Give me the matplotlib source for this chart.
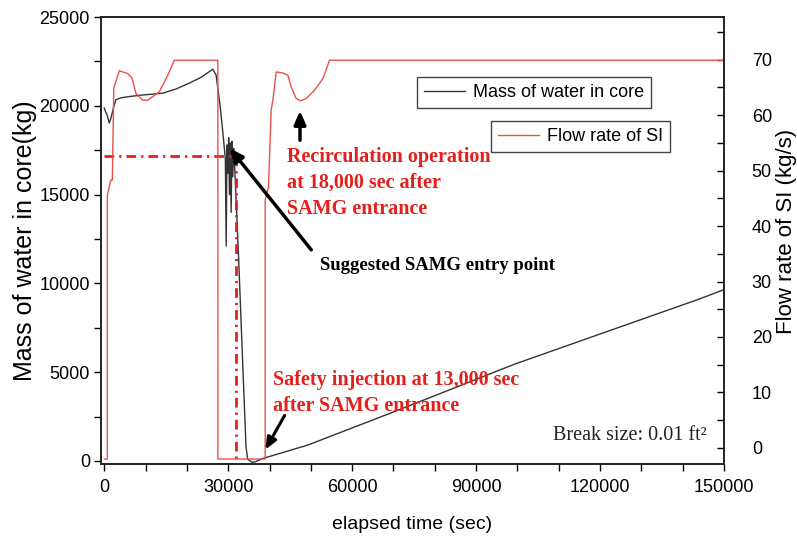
import matplotlib
matplotlib.use("Agg")
import matplotlib.pyplot as plt
from matplotlib.ticker import MultipleLocator

# massa de agua no nucleo (kg)
mass_time = [0, 170, 650, 1200, 1600, 2350, 2800, 4050, 6050, 8900, 14150, 17400,
             20600, 23400, 26250, 27050, 28050, 28700, 29300, 29500, 29700, 29900,
             30100, 30300, 30500, 30700, 30900, 31100, 31300, 31450, 32500, 33500,
             34300, 34700, 35800, 36500, 38500, 49300, 70000, 99300, 120000, 143800,
             150000]
mass = [19870, 19750, 19500, 19030, 19300, 20000, 20340, 20450, 20520, 20600, 20710,
        20950, 21280, 21600, 22060, 21740, 19960, 18480, 17000, 12100, 17800, 16200,
        18200, 15000, 17900, 14000, 18000, 16000, 17600, 17100, 11500, 5500, 800, 100,
        -80, -50, 150, 900, 2760, 5450, 7150, 9100, 9650]

# vazao de injecao de seguranca (kg/s)
flow_time = [0, 730, 740, 1550, 1940, 2300, 3630, 5670, 6700, 7680, 9300, 10500,
             13300, 15360, 16960, 27480, 27500, 38940, 38950, 39740, 40390, 40800,
             41610, 43230, 44440, 45240, 46450, 47490, 48870, 50880, 52920, 54520,
             150000]
flow = [-2.0, -2.0, 45.6, 48.3, 48.3, 64.9, 68.0, 67.5, 66.7, 63.9, 62.7, 62.7, 64.2,
        67.2, 69.9, 69.9, -2.0, -2.0, 44.7, 47.1, 60.9, 62.7, 67.8, 67.6, 67.2, 65.1,
        63.0, 62.6, 63.0, 64.5, 66.6, 69.9, 69.9]

# ponto de entrada no SAMG (linhas traco-ponto)
samg_time = 31900
samg_mass = 17200

W, H = 797, 539


def fx(px):
    return px / W


def fy(py):
    return 1 - py / H


sans = "Liberation Sans"
serif = "Liberation Serif"

fig = plt.figure(figsize=(W / 100, H / 100), dpi=100)
ax = fig.add_axes([fx(101), fy(464), fx(724) - fx(101), fy(17) - fy(464)])
ax2 = ax.twinx()

l1, = ax.plot(mass_time, mass, color="#333333", lw=1.0, label="Mass of water in core")
l2, = ax2.plot(flow_time, flow, color="#e8504a", lw=1.0, label="Flow rate of SI")

# linhas traco-ponto vermelhas
ax.plot([0, samg_time], [samg_mass, samg_mass], color="#e3201c", lw=2,
        dashes=(3.5, 1.8, 0.8, 1.8))
ax.plot([samg_time, samg_time], [samg_mass, -170], color="#e3201c", lw=2,
        dashes=(3.5, 1.8, 0.8, 1.8))

ax.set_xlim(-800, 150000)
ax.set_ylim(-170, 25000)
ax2.set_ylim(-2.9, 77.7)

ax.xaxis.set_major_locator(MultipleLocator(30000))
ax.xaxis.set_minor_locator(MultipleLocator(10000))
ax.yaxis.set_major_locator(MultipleLocator(5000))
ax.yaxis.set_minor_locator(MultipleLocator(2500))
ax2.yaxis.set_major_locator(MultipleLocator(10))
ax2.yaxis.set_minor_locator(MultipleLocator(5))

ax.tick_params(axis="x", which="both", direction="out", length=5, width=1, pad=6,
               labelsize=13)
ax.tick_params(axis="y", which="both", direction="out", length=5, width=1, pad=3,
               labelsize=13)
ax2.tick_params(axis="y", which="both", direction="in", length=5, width=1, pad=20,
                labelsize=13)
for lab in ax.get_xticklabels() + ax.get_yticklabels() + ax2.get_yticklabels():
    lab.set_family(sans)

for a in (ax, ax2):
    for s in a.spines.values():
        s.set_linewidth(1.2)
        s.set_color("#222222")

ax.set_xlabel("elapsed time (sec)", family=sans, fontsize=14, labelpad=14)
ax.set_ylabel("Mass of water in core(kg)", family=sans, fontsize=18, labelpad=2)
ax2.set_ylabel("Flow rate of SI (kg/s)", family=sans, fontsize=16)
ax2.yaxis.set_label_coords(1.083, 0.52)

# legendas em caixas separadas
leg1 = ax2.legend(handles=[l1], loc="upper right", bbox_to_anchor=(fx(651), fy(77)),
                  bbox_transform=fig.transFigure, fancybox=False, edgecolor="#444444",
                  framealpha=1, borderaxespad=0, borderpad=0.4, handlelength=2.3,
                  handletextpad=0.4, prop={"family": sans, "size": 13})
ax2.add_artist(leg1)
ax2.legend(handles=[l2], loc="upper right", bbox_to_anchor=(fx(670), fy(121)),
           bbox_transform=fig.transFigure, fancybox=False, edgecolor="#444444",
           framealpha=1, borderaxespad=0, borderpad=0.4, handlelength=2.3,
           handletextpad=0.4, prop={"family": sans, "size": 13})

# anotacoes
red = "#e3201c"
fig.text(fx(287), fy(147), "Recirculation operation\nat 18,000 sec after\nSAMG entrance",
         family=serif, weight="bold", fontsize=14.5, color=red, va="top", ha="left",
         linespacing=1.4)
fig.text(fx(273), fy(370), "Safety injection at 13,000 sec\nafter SAMG entrance",
         family=serif, weight="bold", fontsize=14.5, color=red, va="top", ha="left",
         linespacing=1.4)
fig.text(fx(320), fy(265), "Suggested SAMG entry point", family=serif, weight="bold",
         fontsize=13.5, color="black", va="center", ha="left")
fig.text(fx(553), fy(436), "Break size: 0.01 ft\u00b2", family=serif, fontsize=14.5,
         color="#222222", va="center", ha="left")

ax2.annotate("", xy=(fx(300), fy(108)), xycoords="figure fraction",
             xytext=(fx(300), fy(143)), textcoords="figure fraction",
             arrowprops=dict(arrowstyle="-|>,head_length=0.8,head_width=0.35",
                             lw=2.5, color="black"))
ax2.annotate("", xy=(fx(228), fy(146)), xycoords="figure fraction",
             xytext=(fx(313), fy(252)), textcoords="figure fraction",
             arrowprops=dict(arrowstyle="-|>,head_length=0.8,head_width=0.35",
                             lw=2.5, color="black"))
ax2.annotate("", xy=(fx(264), fy(452)), xycoords="figure fraction",
             xytext=(fx(286), fy(413)), textcoords="figure fraction",
             arrowprops=dict(arrowstyle="-|>,head_length=0.7,head_width=0.3",
                             lw=2.2, color="black"))

fig.savefig("out.png", dpi=100)
